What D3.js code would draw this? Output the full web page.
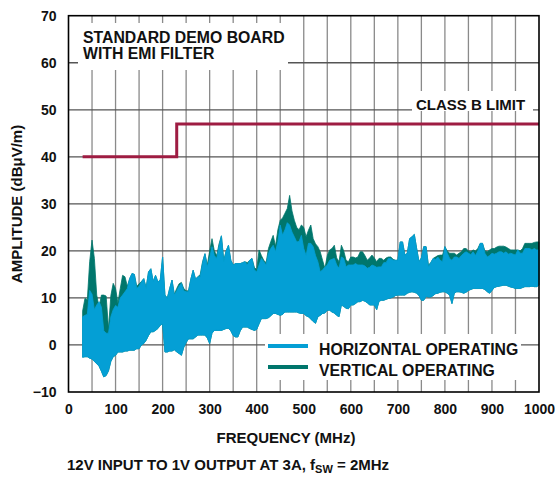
<!DOCTYPE html>
<html><head><meta charset="utf-8">
<script src="https://cdn.jsdelivr.net/npm/d3@7"></script>
<style>
html,body{margin:0;padding:0;background:#fff;}
text{font-family:"Liberation Sans",Arial,Helvetica,sans-serif;font-weight:bold;fill:#111;}
</style></head>
<body>
<svg id="chart" width="555" height="478"></svg>
<script>
// ---- data (5 MHz steps) ----
const freqMHz = [
 30,35,40,45,50,55,60,65,70,75, 80,85,90,95,100,105,110,115,120,125,
 130,135,140,145,150,155,160,165,170,175, 180,185,190,195,200,205,210,215,220,225,
 230,235,240,245,250,255,260,265,270,275, 280,285,290,295,300,305,310,315,320,325,
 330,335,340,345,350,355,360,365,370,375, 380,385,390,395,400,405,410,415,420,425,
 430,435,440,445,450,455,460,465,470,475, 480,485,490,495,500,505,510,515,520,525,
 530,535,540,545,550,555,560,565,570,575, 580,585,590,595,600,605,610,615,620,625,
 630,635,640,645,650,655,660,665,670,675, 680,685,690,695,700,705,710,715,720,725,
 730,735,740,745,750,755,760,765,770,775, 780,785,790,795,800,805,810,815,820,825,
 830,835,840,845,850,855,860,865,870,875, 880,885,890,895,900,905,910,915,920,925,
 930,935,940,945,950,955,960,965,970,975, 980,985,990,995,1000];
// horizontal operating: upper and lower envelope (dBµV/m)
const horizMax = [
 6,6.3,6.5,11.6,10.8,7.5,8.5,9.2,8,3,
 2.5,2.5,6,7.5,8.4,8,10,10.6,11.3,12,
 14.1,15.2,15,12,12.5,13.4,14.1,12,15.5,16.2,
 13.5,14.8,13.4,13.8,18.7,10.6,9.9,12,13.8,10.6,
 11.5,12.5,13.1,11.5,11.3,11.3,14,15.9,14,14.5,
 14.5,17.5,19.4,16.6,18.5,20.9,19,18.4,21,23.2,
 17.7,20,21.2,18,17,17.3,17.3,17.3,17.5,17.7,
 17,18,18.4,16,15.5,17,18.4,17.7,17,19.5,
 20.5,21.2,19.8,22,25.5,23.3,24.5,26,25.5,24,
 23,21.9,22,23.3,20.5,19,21.6,21.6,20.9,19,
 17.7,15.5,16,16.5,17,18,18.2,18.4,17,16.3,
 18.7,18.4,16.6,17,17,17,17.3,17,17,17,
 16.8,16.3,16.5,17,16.8,16.5,16.6,16.6,17.5,17.5,
 18.4,18.4,18,18,18,21.9,21.9,19.1,19.5,22.6,
 23,23.5,20.5,17.7,18.5,20.9,20.9,16.6,17.5,18.4,
 18.2,18.7,18,17.7,20.9,19.5,18.4,18,18.7,18.7,
 18.4,19,19.5,19.8,19.5,19.2,19.8,19,20,21.6,
 21.6,19.5,18.7,19,19.5,19.3,19.5,19.8,19.8,19.5,
 19.8,19.3,19.5,19.3,19.1,20.2,19.5,19.5,20.5,20.5,
 20.5,20.2,20.5,20.2,20.2];
const horizMin = [
 -2.6,-2.5,-2.5,-2.8,-3.0,-3.5,-4.0,-4.5,-5.6,-6.8,
 -6.5,-5.5,-3.5,-2.5,-2.2,-1.5,-1.5,-1.5,-1.3,-1.3,
 -1.1,-1.1,-1.1,-0.8,-0.8,0,0.3,1,2,2.8,
 2.8,3.1,3.5,4.2,4.5,-1.5,-1.5,-1.3,-1.3,-1.0,
 -1.5,-1.8,-2.2,-0.5,0.5,1.3,1.3,1.3,1.7,2.1,
 2.1,2.1,2.1,1.5,0.3,2.5,3.1,3.1,3.1,3.1,
 3.3,3.5,3.5,3.0,2.0,1.7,1.7,3.0,3.8,3.8,
 3.8,3.5,3.3,3.1,3.3,4.5,5.6,5.6,5.6,5.8,
 6.2,6.7,6.7,6.5,6.3,6.5,7,7,7,7,
 7,7,6.8,6.7,6.7,6.2,6,5.5,5,4.6,
 6,6.3,6.7,6.8,7.4,7.4,7,6.8,6.3,6,
 8.5,8.2,7.8,7.7,8.5,8.5,8.8,9.2,9.2,9.5,
 9.3,9,8.5,8.5,8.5,7.5,9.3,9.5,9.5,9.7,
 9.9,10,10.2,10.5,10.6,10.6,10.6,10.6,11,11.2,
 11.3,11.2,11,10.5,9.5,9.5,10.3,10.2,10.2,10.5,
 10.9,11,11.2,11.3,11.3,11,10.6,8.8,11,11.3,
 11.3,11.2,11,11.2,11.6,11.8,12,12,12,12,
 12,11.8,11.3,11,11.6,12.2,12.4,12.5,12.6,12.7,
 12.7,12.5,12.3,12.2,12,12,12,12.2,12.4,12.4,
 12.4,12.5,12.4,12.4,12.7];
// vertical operating: upper envelope (its lower part lies hidden under the horizontal trace)
const vertMax = [
 7.2,9.9,9.6,17.7,22.3,18.4,10.6,8,10.6,10.6,
 10.4,3.5,10.5,13.1,12,9,12,14.8,14.5,12.5,
 14.1,15.2,15,12.5,13,13.5,14.1,12.2,15.5,16.2,
 13.5,14.8,13.4,13.8,18.7,10.6,10,12,13.8,10.8,
 12,13,13.3,12,11.5,11.5,14,15.9,14,14.5,
 15,17.7,19.4,17,20,22.6,20,19,21.5,23.2,
 18,20,21.2,18,17,17.3,17.3,17.3,17.5,17.7,
 17.5,18,18.4,16.5,16,20.2,19,18,17.5,20.5,
 22,23.3,21,24.5,26.5,27,28,29,31.8,28.5,
 26.5,25,24.5,25.5,25,23,24.4,25.5,22.6,21.5,
 20.9,19.8,18,16.3,19,20.2,20.5,21.2,18.5,17.7,
 21.2,20,18,17.7,18.7,18.7,18.5,18.7,19.8,19.8,
 19,18,18.5,19.1,18.5,17.7,18.4,18.4,18,18.5,
 18.7,18.7,18.2,18,18,21.9,21.9,19.1,19.5,22.6,
 23,23.5,20.5,17.7,18.5,20.9,20.9,17,17.5,18.4,
 18.7,19,19.1,19.1,20.9,20,19.5,19.5,19.5,19.1,
 19.5,19.8,20.5,20.5,20,19.8,20.2,20,20.5,21.6,
 21.6,20,19.8,20.2,20.5,20.5,20.8,21,21,21,
 20.8,20.5,20.2,20.2,20.2,20.2,20,20.5,21.6,21.6,
 21.6,21.6,21.8,21.9,21.9];
const limitFreq = [30,230,230,1000];
const limitDb = [40,40,47,47];
const xTicks = [0,100,200,300,400,500,600,700,800,900,1000];
const xGrid = [50,100,150,200,250,300,350,400,450,500,550,600,650,700,750,800,850,900,950];
const yTicks = [-10,0,10,20,30,40,50,60,70];
const seriesNames = ["HORIZONTAL OPERATING","VERTICAL OPERATING"];
const colors = {horiz:"#049fd5", vert:"#00766c", limit:"#9e1c42", grid:"#8a8a8a"};

// ---- layout ----
const svg = d3.select("#chart");
const L = 68.5, R = 539, T = 15.7, B = 392;
const x = d3.scaleLinear().domain([0,1000]).range([L,R]);
const y = d3.scaleLinear().domain([-10,70]).range([B,T]);

// grid
const g = svg.append("g");
g.selectAll("line.vg").data(xGrid).join("line")
  .attr("x1",d=>x(d)).attr("x2",d=>x(d)).attr("y1",T).attr("y2",B)
  .attr("stroke",colors.grid).attr("stroke-width",1.3);
g.selectAll("line.hg").data(yTicks.slice(1,-1)).join("line")
  .attr("x1",L).attr("x2",R).attr("y1",d=>y(d)).attr("y2",d=>y(d))
  .attr("stroke","#555").attr("stroke-width",1.3);

// white label boxes
function box(x0,y0,x1,y1){svg.append("rect").attr("x",x0).attr("y",y0).attr("width",x1-x0).attr("height",y1-y0).attr("fill","#fff");}
box(78,23,288,70);
box(412,91,533,111);
box(265,334,521,380);

// data areas
const idx = d3.range(freqMHz.length);
const areaV = d3.area().x(i=>x(freqMHz[i])).y0(i=>y(horizMin[i])).y1(i=>y(vertMax[i]));
const areaH = d3.area().x(i=>x(freqMHz[i])).y0(i=>y(horizMin[i])).y1(i=>y(horizMax[i]));
svg.append("path").datum(idx).attr("d",areaV).attr("fill",colors.vert).attr("stroke",colors.vert).attr("stroke-width",0.8);
svg.append("path").datum(idx).attr("d",areaH).attr("fill",colors.horiz).attr("stroke",colors.horiz).attr("stroke-width",0.8);

// limit line
const lim = d3.line().x(i=>x(limitFreq[i])).y(i=>y(limitDb[i]));
svg.append("path").datum(d3.range(limitFreq.length)).attr("d",lim)
  .attr("fill","none").attr("stroke",colors.limit).attr("stroke-width",3);

// frame
svg.append("rect").attr("x",L).attr("y",T).attr("width",R-L).attr("height",B-T)
  .attr("fill","none").attr("stroke","#000").attr("stroke-width",1.6);

// axes via d3 axis
const xAxis = d3.axisBottom(x).tickValues(xTicks).tickSize(0).tickPadding(12).tickFormat(d3.format("d"));
const xa = svg.append("g").attr("transform",`translate(0,${B})`).call(xAxis);
xa.select(".domain").remove();
xa.selectAll("text").attr("font-size",14).attr("font-family","Liberation Sans, Arial, sans-serif").attr("font-weight","bold").attr("fill","#111");
const yAxis = d3.axisLeft(y).tickValues(yTicks).tickSize(0).tickPadding(12).tickFormat(d=>d<0?"\u2212"+Math.abs(d):d);
const ya = svg.append("g").attr("transform",`translate(${L},0)`).call(yAxis);
ya.select(".domain").remove();
ya.selectAll("text").attr("font-size",14).attr("font-family","Liberation Sans, Arial, sans-serif").attr("font-weight","bold").attr("fill","#111");

// labels
svg.append("text").attr("x",83).attr("y",43).attr("font-size",15.8).text("STANDARD DEMO BOARD");
svg.append("text").attr("x",83).attr("y",59).attr("font-size",15.8).text("WITH EMI FILTER");
svg.append("text").attr("x",416).attr("y",110).attr("font-size",15).text("CLASS B LIMIT");

// legend
const leg = [{c:colors.horiz,n:seriesNames[0],y:346},{c:colors.vert,n:seriesNames[1],y:367}];
leg.forEach(d=>{
  svg.append("line").attr("x1",268).attr("x2",308).attr("y1",d.y).attr("y2",d.y).attr("stroke",d.c).attr("stroke-width",4);
  svg.append("text").attr("x",319).attr("y",d.y+8.5).attr("font-size",15.8).text(d.n);
});

// axis titles
svg.append("text").attr("x",286).attr("y",443).attr("text-anchor","middle").attr("font-size",15).text("FREQUENCY (MHz)");
svg.append("text").attr("transform","translate(22,204) rotate(-90)").attr("text-anchor","middle").attr("font-size",15).text("AMPLITUDE (dBμV/m)");
const cap = svg.append("text").attr("x",67).attr("y",470).attr("font-size",15);
cap.append("tspan").text("12V INPUT TO 1V OUTPUT AT 3A, f");
cap.append("tspan").attr("font-size",11).attr("dy",3).text("SW");
cap.append("tspan").attr("dy",-3).text(" = 2MHz");
</script>
</body></html>
